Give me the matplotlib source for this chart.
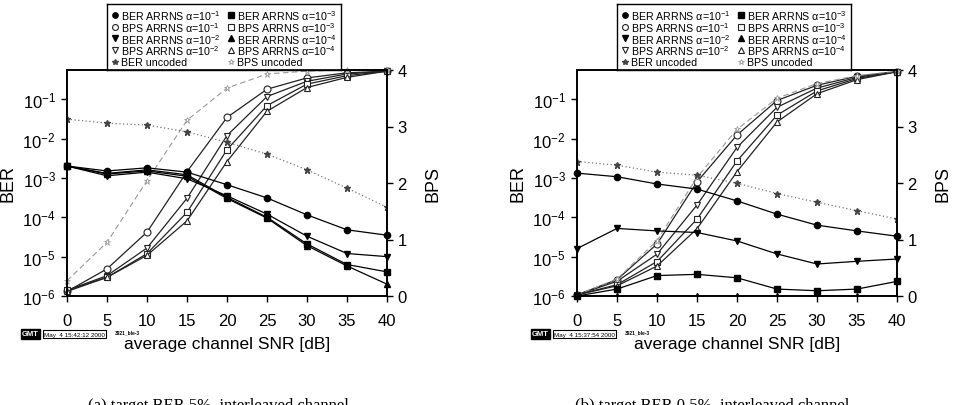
import math

import matplotlib
matplotlib.use("Agg")
import matplotlib.pyplot as plt
import matplotlib.ticker as mticker

plt.rcParams["font.family"] = ["Liberation Sans", "DejaVu Sans"]
plt.rcParams["mathtext.fontset"] = "custom"
plt.rcParams["mathtext.rm"] = "Liberation Sans"
plt.rcParams["mathtext.it"] = "Liberation Sans:italic"

snr = [0, 5, 10, 15, 20, 25, 30, 35, 40]

# (a) target BER 5%
a_ber_1 = [2.0e-3, 1.5e-3, 1.8e-3, 1.4e-3, 6.7e-4, 3.1e-4, 1.15e-4, 4.8e-5, 3.5e-5]
a_ber_2 = [2.0e-3, 1.13e-3, 1.4e-3, 9.5e-4, 3.5e-4, 1.2e-4, 3.3e-5, 1.2e-5, 1.0e-5]
a_ber_3 = [2.0e-3, 1.3e-3, 1.6e-3, 1.2e-3, 3.2e-4, 1.0e-4, 2.1e-5, 6.3e-6, 4.1e-6]
a_ber_4 = [2.0e-3, 1.25e-3, 1.5e-3, 1.1e-3, 3.0e-4, 9.5e-5, 1.9e-5, 5.8e-6, 2.0e-6]
a_ber_unc = [3.1e-2, 2.45e-2, 2.2e-2, 1.48e-2, 8.0e-3, 4.0e-3, 1.6e-3, 5.5e-4, 1.8e-4]
a_bps_1 = [0.08, 0.48, 1.13, 2.2, 3.16, 3.66, 3.86, 3.95, 3.98]
a_bps_2 = [0.1, 0.36, 0.85, 1.73, 2.84, 3.53, 3.8, 3.93, 3.98]
a_bps_3 = [0.1, 0.33, 0.75, 1.48, 2.59, 3.37, 3.75, 3.9, 3.98]
a_bps_4 = [0.08, 0.33, 0.72, 1.33, 2.38, 3.27, 3.69, 3.87, 3.98]
a_bps_unc = [0.27, 0.95, 2.04, 3.11, 3.68, 3.93, 3.98, 4.0, 4.0]

# (b) target BER 0.5%
b_ber_1 = [1.32e-3, 1.07e-3, 7.0e-4, 5.2e-4, 2.6e-4, 1.2e-4, 6.3e-5, 4.5e-5, 3.3e-5]
b_ber_2 = [1.6e-5, 5.2e-5, 4.5e-5, 4.1e-5, 2.5e-5, 1.17e-5, 6.5e-6, 7.6e-6, 8.7e-6]
b_ber_3 = [1.0e-6, 1.5e-6, 3.3e-6, 3.55e-6, 2.9e-6, 1.5e-6, 1.36e-6, 1.5e-6, 2.35e-6]
b_ber_4 = [1.0e-6, 1.0e-6, 1.0e-6, 1.0e-6, 1.0e-6, 1.0e-6, 1.0e-6, 1.0e-6, 1.0e-6]
b_ber_unc = [2.6e-3, 2.1e-3, 1.4e-3, 1.17e-3, 7.3e-4, 4.0e-4, 2.4e-4, 1.47e-4, 9.0e-5]
b_bps_1 = [0.02, 0.29, 0.92, 2.02, 2.85, 3.46, 3.73, 3.89, 3.97]
b_bps_2 = [0.02, 0.26, 0.74, 1.61, 2.63, 3.34, 3.68, 3.87, 3.97]
b_bps_3 = [0.02, 0.2, 0.61, 1.36, 2.39, 3.2, 3.63, 3.85, 3.97]
b_bps_4 = [0.02, 0.18, 0.53, 1.19, 2.2, 3.08, 3.58, 3.83, 3.97]
b_bps_unc = [0.02, 0.3, 0.98, 2.1, 2.95, 3.5, 3.76, 3.9, 3.98]

alpha_tex = [r"10$^{\mathregular{-1}}$", r"10$^{\mathregular{-2}}$",
             r"10$^{\mathregular{-3}}$", r"10$^{\mathregular{-4}}$"]
caption_a = "(a) target BER 5%, interleaved channel"
caption_b = "(b) target BER 0.5%, interleaved channel"
stamp_a = "May  4 15:42:12 2000"
stamp_b = "May  4 15:37:54 2000"

W, H = 956, 406
fig = plt.figure(figsize=(W / 100, H / 100), dpi=100)


def fx(px):
    return px / W


def fy(py):
    return 1 - py / H


def draw_legend(x0, handles, order, labels):
    # legend box sits on top of the axes, two columns of five rows
    lx, lw, lh = x0 + 40, 234, 66
    lg = fig.add_axes([fx(lx), fy(71), fx(lw), lh / H])
    lg.set_xlim(0, lw)
    lg.set_ylim(lh, 0)
    lg.set_xticks([])
    lg.set_yticks([])
    for s in lg.spines.values():
        s.set_linewidth(1.0)
    for n, (k, lab) in enumerate(zip(order, labels)):
        col, row = divmod(n, 5)
        mx = 8 + col * 116
        my = 11 + row * 11.7
        h = handles[k]
        lg.plot([mx], [my], ls="None", marker=h.get_marker(),
                ms=h.get_markersize() * 0.85, mfc=h.get_markerfacecolor(),
                mec=h.get_markeredgecolor(), mew=h.get_markeredgewidth())
        lg.text(mx + 6, my + 0.5, lab, ha="left", va="center", fontsize=7.7)


def panel(x0, bers, bpss, ber_unc, bps_unc, stamp, caption, cap_x,
          clip_last=False):
    ax = fig.add_axes([fx(x0), fy(297), fx(320), 226 / H])
    ax2 = ax.twinx()
    ax.set_zorder(ax2.get_zorder() + 1)
    ax.patch.set_visible(False)

    marks = ["o", "v", "s", "^"]
    handles = {}
    for i, (b, m) in enumerate(zip(bers, marks)):
        clip = clip_last and i == 3
        h, = ax.plot(snr, b, color="black", lw=0.9, marker=m, ms=4.5,
                     mfc="black", mec="black", clip_on=clip)
        handles[("ber", i)] = h
    h, = ax.plot(snr, ber_unc, color="#777777", lw=0.9, ls=(0, (1, 2)),
                 marker="*", ms=5, mfc="#444444", mec="#444444")
    handles["ber_unc"] = h
    for i, (b, m) in enumerate(zip(bpss, marks)):
        h, = ax2.plot(snr, b, color="#222222", lw=0.9, marker=m, ms=5,
                      mfc="white", mec="#222222", mew=0.8, clip_on=False)
        handles[("bps", i)] = h
    h, = ax2.plot(snr, bps_unc, color="#999999", lw=0.8, ls=(0, (5, 3)),
                  marker="*", ms=5, mfc="white", mec="#999999", mew=0.6,
                  clip_on=False)
    handles["bps_unc"] = h

    ax.set_yscale("log")
    ax.set_ylim(1e-6, 10 ** -0.26)
    ax.set_xlim(0, 40)
    ax.set_xticks(snr)
    ax.yaxis.set_major_locator(mticker.FixedLocator([1e-6, 1e-5, 1e-4, 1e-3, 1e-2, 1e-1]))
    ax.yaxis.set_minor_locator(mticker.NullLocator())
    ax.yaxis.set_major_formatter(mticker.FuncFormatter(
        lambda v, p: r"10$^{\mathregular{%d}}$" % round(math.log10(v))))
    ax2.set_ylim(0, 4)
    ax2.set_yticks([0, 1, 2, 3, 4])
    for a in (ax, ax2):
        a.tick_params(direction="out", length=4, width=1, labelsize=12)
        for s in a.spines.values():
            s.set_linewidth(1.2)
    ax.tick_params(axis="x", pad=8)
    ax.tick_params(axis="y", pad=4)

    order = [("ber", 0), ("bps", 0), ("ber", 1), ("bps", 1), "ber_unc",
             ("ber", 2), ("bps", 2), ("ber", 3), ("bps", 3), "bps_unc"]
    labels = []
    for k in order:
        if k == "ber_unc":
            labels.append("BER uncoded")
        elif k == "bps_unc":
            labels.append("BPS uncoded")
        else:
            labels.append("%s ARRNS \u03b1=%s" % (k[0].upper(), alpha_tex[k[1]]))
    draw_legend(x0, handles, order, labels)

    # axis labels
    fig.text(fx(x0 - 59), fy(184), "BER", rotation=90, ha="center",
             va="center", fontsize=13)
    fig.text(fx(x0 + 366), fy(184), "BPS", rotation=90, ha="center",
             va="center", fontsize=13)
    fig.text(fx(x0 + 160), fy(345), "average channel SNR [dB]", ha="center",
             va="center", fontsize=12.5)

    # plot stamp
    fig.text(fx(x0 - 45), fy(335), "GMT", ha="left", va="center",
             fontsize=5.5, color="white", weight="bold",
             bbox=dict(boxstyle="square,pad=0.15", fc="black", ec="black"))
    fig.text(fx(x0 - 23), fy(335), stamp, ha="left", va="center",
             fontsize=4.5, color="black",
             bbox=dict(boxstyle="square,pad=0.2", fc="white", ec="black", lw=0.8))
    fig.text(fx(x0 + 48), fy(333), "3921_ble-3", ha="left", va="center",
             fontsize=3.5, weight="bold")

    fig.text(fx(cap_x), fy(398), caption, ha="left", va="top", fontsize=12,
             family=["Liberation Serif", "DejaVu Serif"])
    return ax


panel(67, [a_ber_1, a_ber_2, a_ber_3, a_ber_4],
      [a_bps_1, a_bps_2, a_bps_3, a_bps_4], a_ber_unc, a_bps_unc,
      stamp_a, caption_a, 88)
panel(577, [b_ber_1, b_ber_2, b_ber_3, b_ber_4],
      [b_bps_1, b_bps_2, b_bps_3, b_bps_4], b_ber_unc, b_bps_unc,
      stamp_b, caption_b, 575, clip_last=True)

fig.savefig("out.png", dpi=100)
